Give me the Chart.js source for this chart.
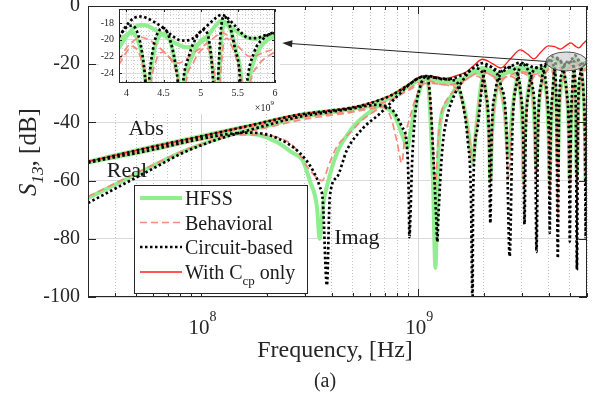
<!DOCTYPE html>
<html>
<head>
<meta charset="utf-8">
<title>S13 vs frequency</title>
<script src="https://cdn.jsdelivr.net/npm/chart.js@4.4.1/dist/chart.umd.min.js"></script>
<style>
  html, body { margin: 0; padding: 0; background: #fff; }
  #wrap { position: relative; width: 597px; height: 398px; overflow: hidden; }
  #mainChart { position: absolute; left: 0; top: 0; }
  #insetChart { position: absolute; left: 99px; top: 7px; background: #fff; }
</style>
</head>
<body>
<div id="wrap">
  <canvas id="mainChart" width="597" height="398"></canvas>
  <canvas id="insetChart" width="181" height="107"></canvas>
</div>
<script>
// S13 magnitude, real and imaginary parts, [GHz, dB]
const hfssAbs = [[0.03,-53.5],[0.058,-48.5],[0.1,-44.7],[0.167,-41.1],[0.285,-37.4],[0.4,-36],[0.48,-35.3],[0.58,-34],[0.665,-32.6],[0.75,-31.1],[0.82,-29.5],[0.9,-27.5],[0.985,-25.5],[1.05,-24.8],[1.12,-24.8],[1.2,-25.4],[1.3,-26],[1.42,-26],[1.55,-25.3],[1.67,-24.4],[1.8,-22.6],[1.98,-21.3],[2.2,-22.7],[2.4,-23.7],[2.65,-22.4],[2.96,-21],[3.2,-21.5],[3.41,-22],[3.65,-21.5],[3.9,-21],[4.24,-18.2],[4.49,-19.1],[4.7,-20.6],[4.86,-20.9],[5.11,-19.7],[5.28,-17.7],[5.45,-18.8],[5.65,-19.8],[5.9,-19.5],[6.0,-19.4]];
const hfssRe = [[0.03,-66],[0.0577,-55.5],[0.082,-50],[0.117,-45.8],[0.15,-43.4],[0.2,-41.2],[0.285,-38.2],[0.4,-36.5],[0.48,-35.6],[0.55,-34.8],[0.62,-34.3],[0.766,-36.8],[0.85,-45],[0.89,-48.8],[0.918,-43.6],[0.969,-34.7],[1.04,-26.5],[1.08,-25],[1.2,-25.5],[1.38,-26.3],[1.52,-28],[1.62,-34],[1.71,-44],[1.78,-54],[1.85,-42],[1.95,-27],[2.05,-22],[2.15,-22.4],[2.35,-26],[2.5,-36],[2.61,-52],[2.7,-38],[2.82,-27],[2.96,-21.5],[3.1,-21.6],[3.3,-26],[3.42,-37],[3.5,-55],[3.57,-38],[3.7,-27],[3.88,-21.6],[4.04,-20],[4.22,-23],[4.33,-35],[4.4,-55],[4.47,-36],[4.6,-25],[4.8,-20.6],[5.0,-19.6],[5.2,-22],[5.32,-35],[5.39,-58],[5.46,-36],[5.6,-25],[5.8,-20.2],[6.0,-19.8]];
const hfssIm = [[0.03,-53.8],[0.06,-49.3],[0.1,-45.6],[0.15,-43.8],[0.18,-44.2],[0.222,-46.7],[0.264,-50.5],[0.293,-53],[0.316,-60],[0.341,-69],[0.351,-80],[0.365,-68],[0.379,-62],[0.422,-50.5],[0.484,-43],[0.52,-40.2],[0.62,-35.5],[0.75,-31],[0.9,-27.3],[1.05,-25.2],[1.1,-25],[1.137,-38],[1.17,-61],[1.2,-90],[1.224,-67],[1.25,-43.6],[1.36,-33.3],[1.5,-27.8],[1.65,-24.6],[1.78,-22.8],[1.95,-23.5],[2.05,-30],[2.12,-45],[2.15,-60],[2.19,-44],[2.28,-30],[2.45,-24],[2.61,-22.7],[2.8,-23.5],[2.96,-30],[3.03,-44],[3.06,-60],[3.1,-44],[3.2,-30],[3.35,-24],[3.5,-22.2],[3.72,-23.5],[3.9,-30],[3.99,-44],[4.04,-60],[4.09,-44],[4.18,-30],[4.3,-21],[4.42,-19.2],[4.62,-21.5],[4.84,-30],[4.95,-44],[5.0,-60],[5.06,-44],[5.15,-30],[5.27,-19.6],[5.4,-19],[5.6,-21.5],[5.78,-30],[5.87,-44],[5.92,-60],[5.97,-44],[6.0,-37]];

const behavAbs = [[0.03,-53.3],[0.058,-48.6],[0.1,-45],[0.167,-41.6],[0.285,-38.3],[0.4,-37],[0.48,-36.3],[0.58,-35],[0.665,-33.6],[0.75,-32.2],[0.82,-30.6],[0.9,-28.6],[0.985,-26.7],[1.05,-26],[1.12,-25.8],[1.2,-26.4],[1.3,-27],[1.42,-27],[1.55,-26.3],[1.67,-25.3],[1.8,-23.6],[1.98,-22.5],[2.2,-24],[2.4,-25],[2.65,-23.8],[2.96,-22.5],[3.2,-23],[3.41,-23.5],[3.65,-23],[3.9,-22.4],[4.24,-19.7],[4.49,-21],[4.7,-22.8],[4.95,-21.2],[5.28,-19.1],[5.53,-21],[5.7,-22.2],[5.9,-21.5],[6.0,-21.1]];
const behavRe = [[0.03,-65.5],[0.0577,-55.2],[0.082,-49.8],[0.117,-45.9],[0.15,-43.8],[0.2,-41.8],[0.285,-39.2],[0.4,-37.5],[0.48,-36.7],[0.58,-35.5],[0.68,-34.8],[0.745,-38],[0.8,-47],[0.84,-54],[0.865,-46],[0.918,-38],[0.98,-31],[1.08,-26.6],[1.2,-26.7],[1.38,-27.3],[1.52,-29],[1.62,-35],[1.71,-44],[1.78,-53],[1.85,-42],[1.95,-28],[2.05,-23],[2.15,-23.6],[2.35,-27.5],[2.5,-37],[2.61,-59],[2.7,-39],[2.82,-28],[2.96,-23],[3.1,-23.3],[3.3,-27.5],[3.42,-38],[3.5,-60],[3.57,-39],[3.7,-28.5],[3.88,-23],[4.04,-21.5],[4.22,-25],[4.33,-37],[4.4,-73],[4.47,-37],[4.6,-27],[4.8,-22.3],[5.0,-21.4],[5.2,-23.5],[5.32,-37],[5.39,-68],[5.46,-37],[5.6,-27],[5.8,-22.3],[6.0,-22]];
const behavIm = [[0.03,-53.6],[0.06,-49.4],[0.1,-45.9],[0.15,-44.3],[0.2,-44.5],[0.255,-47],[0.275,-49.5],[0.306,-55],[0.341,-59],[0.36,-60],[0.39,-54],[0.42,-48.5],[0.484,-43.6],[0.556,-39],[0.665,-35],[0.8,-31.2],[0.92,-28.6],[1.05,-26.4],[1.1,-26.2],[1.14,-35],[1.17,-47],[1.2,-62],[1.23,-48],[1.27,-38],[1.36,-32],[1.5,-28.5],[1.65,-25.6],[1.78,-24],[1.95,-24.8],[2.05,-31],[2.12,-45],[2.15,-60],[2.19,-45],[2.28,-31],[2.45,-25.5],[2.61,-24.1],[2.8,-25],[2.96,-31],[3.03,-45],[3.06,-62],[3.1,-45],[3.2,-31],[3.35,-25.5],[3.5,-23.7],[3.72,-25],[3.9,-31],[3.99,-45],[4.04,-65],[4.09,-45],[4.18,-31],[4.3,-22.5],[4.42,-20.9],[4.62,-23.3],[4.84,-31],[4.95,-45],[5.0,-63],[5.06,-45],[5.15,-31],[5.27,-21.1],[5.4,-20.6],[5.6,-23.5],[5.78,-31],[5.87,-45],[5.92,-62],[5.97,-45],[6.0,-38]];

const circuitAbs = [[0.03,-53.6],[0.058,-48.6],[0.1,-44.8],[0.167,-41.1],[0.285,-37.3],[0.4,-35.9],[0.48,-35.1],[0.58,-33.7],[0.665,-32.3],[0.75,-30.7],[0.82,-29.1],[0.9,-27.1],[0.985,-25.1],[1.05,-24.2],[1.12,-24.1],[1.2,-24.6],[1.3,-25.2],[1.42,-25],[1.55,-24.1],[1.67,-23],[1.8,-21.2],[1.98,-19.6],[2.2,-21.2],[2.4,-22.6],[2.65,-20.9],[2.95,-19.5],[3.2,-20.3],[3.45,-21.2],[3.7,-20.4],[3.91,-19.7],[4.15,-17.4],[4.45,-18.2],[4.7,-20],[4.86,-20],[5.07,-18.6],[5.28,-17],[5.45,-18.2],[5.65,-19.8],[5.8,-19.7],[6.0,-19.2]];
const circuitRe = [[0.03,-67.7],[0.0577,-56.5],[0.082,-50.5],[0.117,-46],[0.14,-44.2],[0.2,-41],[0.285,-38],[0.4,-36.3],[0.48,-35.4],[0.58,-34.3],[0.62,-34],[0.74,-35],[0.842,-41.6],[0.89,-49.5],[0.905,-66.7],[0.91,-79.4],[0.92,-72.5],[0.935,-55.3],[0.966,-38],[1.02,-27.8],[1.08,-24.4],[1.22,-24.7],[1.4,-25.3],[1.52,-26.5],[1.6,-33],[1.69,-46],[1.75,-65.6],[1.78,-104],[1.79,-65.6],[1.87,-42.6],[1.98,-26],[2.08,-20.5],[2.2,-21.4],[2.4,-27],[2.55,-42],[2.64,-86],[2.72,-42],[2.85,-26],[3.0,-19.9],[3.15,-21],[3.35,-27],[3.46,-42],[3.51,-84.5],[3.57,-42],[3.7,-26],[3.85,-20.6],[4.04,-18.6],[4.25,-22],[4.34,-35],[4.4,-86.6],[4.46,-35],[4.6,-23],[4.8,-19.6],[5.0,-18.9],[5.2,-21],[5.33,-35],[5.39,-90.7],[5.46,-35],[5.6,-23],[5.8,-19.9],[6.0,-19.6]];
const circuitIm = [[0.03,-53.8],[0.06,-49.3],[0.1,-45.6],[0.14,-43.8],[0.167,-43.5],[0.222,-45.3],[0.284,-50.5],[0.326,-56.4],[0.351,-62],[0.363,-67],[0.379,-96],[0.391,-65.6],[0.422,-58.8],[0.469,-49.5],[0.556,-42],[0.665,-37],[0.8,-31],[0.9,-27.3],[1.0,-24.8],[1.1,-24.3],[1.137,-32.3],[1.17,-49.5],[1.21,-72.5],[1.224,-81],[1.238,-72.5],[1.29,-49.5],[1.36,-38],[1.48,-30],[1.56,-27],[1.68,-23.5],[1.8,-21.3],[1.95,-22.2],[2.05,-30],[2.12,-45],[2.15,-74.6],[2.18,-45],[2.26,-30],[2.4,-23.2],[2.6,-21],[2.8,-22],[2.97,-30],[3.05,-45],[3.09,-75],[3.13,-45],[3.22,-30],[3.36,-23],[3.52,-21.3],[3.75,-22],[3.92,-30],[4.0,-45],[4.04,-78],[4.08,-45],[4.16,-30],[4.28,-20.5],[4.42,-18.4],[4.6,-20.2],[4.84,-30],[4.95,-45],[5.0,-81],[5.05,-45],[5.14,-28],[5.26,-18.6],[5.4,-18.6],[5.6,-21],[5.78,-30],[5.87,-45],[5.92,-80],[5.97,-45],[6.0,-36]];

const ccpAbs = [[0.03,-53.5],[0.058,-48.5],[0.1,-44.7],[0.167,-41],[0.285,-37.2],[0.4,-35.8],[0.48,-35],[0.58,-33.6],[0.665,-32.2],[0.75,-30.6],[0.82,-29],[0.9,-27],[0.985,-25],[1.05,-24],[1.12,-23.9],[1.2,-24.3],[1.3,-24.9],[1.42,-24.5],[1.55,-23.6],[1.67,-22.6],[1.8,-20.5],[1.98,-18.3],[2.2,-19.8],[2.4,-21.3],[2.65,-18.3],[2.96,-15.1],[3.2,-16.6],[3.41,-18.2],[3.7,-15.6],[3.99,-13.7],[4.25,-14],[4.54,-14.8],[4.8,-13.6],[5.05,-12.7],[5.3,-13.8],[5.5,-14.4],[5.75,-13],[6.0,-11.7]];

// zoomed window 3.9 - 6 GHz
const insetHfssAbs = [[3.9,-21],[4.0,-19.6],[4.1,-18.6],[4.2,-18.2],[4.3,-18.4],[4.4,-18.9],[4.5,-19.4],[4.6,-20.1],[4.7,-20.6],[4.8,-20.9],[4.9,-20.8],[5.0,-20.3],[5.1,-19.5],[5.2,-18.3],[5.28,-17.7],[5.35,-18],[5.45,-18.8],[5.55,-19.4],[5.65,-19.8],[5.75,-19.9],[5.85,-19.7],[6.0,-19.4]];
const insetHfssRe = [[3.9,-20.4],[4.0,-19.4],[4.08,-19.2],[4.15,-20],[4.21,-22],[4.26,-25.5],[4.3,-32],[4.72,-32],[4.77,-25.5],[4.86,-22.5],[4.97,-20.5],[5.06,-19.8],[5.13,-21.5],[5.18,-25.5],[5.21,-32],[5.58,-32],[5.64,-25.5],[5.74,-22],[5.86,-20.3],[6.0,-19.6]];
const insetHfssIm = [[4.27,-32],[4.31,-25.5],[4.37,-21.5],[4.45,-19.5],[4.52,-19.3],[4.6,-20.5],[4.67,-23.5],[4.71,-26],[4.73,-32],[5.21,-32],[5.24,-25.5],[5.28,-19.8],[5.32,-18],[5.4,-18.8],[5.48,-21.5],[5.55,-25.2],[5.58,-32]];
const insetBehavAbs = [[3.9,-22.5],[4.0,-21],[4.1,-20.1],[4.2,-19.7],[4.3,-20],[4.4,-20.6],[4.5,-21.4],[4.6,-22.3],[4.7,-22.8],[4.8,-22.4],[4.9,-21.6],[5.0,-21],[5.1,-20.3],[5.2,-19.6],[5.28,-19.1],[5.35,-19.4],[5.45,-20.3],[5.55,-21.2],[5.65,-22],[5.75,-21.9],[5.85,-21.5],[6.0,-21.1]];
const insetBehavRe = [[3.9,-23],[4.0,-21.5],[4.08,-20.8],[4.15,-21.3],[4.22,-23],[4.27,-25.5],[4.31,-32],[4.75,-32],[4.8,-25.5],[4.9,-22.8],[5.0,-21.3],[5.08,-21],[5.15,-22.5],[5.2,-25.5],[5.23,-32],[5.58,-32],[5.66,-25.5],[5.78,-23],[5.9,-22],[6.0,-21.5]];
const insetBehavIm = [[4.28,-32],[4.33,-25.5],[4.4,-22.5],[4.48,-21.5],[4.55,-21.8],[4.63,-23],[4.7,-25.5],[4.74,-32],[5.22,-32],[5.26,-25.5],[5.3,-21],[5.35,-19.8],[5.42,-20.8],[5.5,-23],[5.56,-25.5],[5.6,-32]];
const insetCircuitAbs = [[3.9,-19.7],[4.0,-18.3],[4.1,-17.4],[4.2,-17.2],[4.3,-17.5],[4.4,-18],[4.5,-18.6],[4.6,-19.4],[4.7,-20],[4.8,-20.1],[4.9,-19.8],[5.0,-19],[5.1,-18.2],[5.2,-17.4],[5.28,-17],[5.35,-17.3],[5.45,-18.2],[5.55,-19.2],[5.65,-19.8],[5.75,-19.8],[5.85,-19.5],[6.0,-19.2]];
const insetCircuitRe = [[3.9,-19.6],[4.0,-18.5],[4.08,-18.3],[4.15,-19.2],[4.21,-21.5],[4.26,-25.5],[4.3,-32],[4.72,-32],[4.76,-25.5],[4.84,-22],[4.95,-19.6],[5.04,-18.8],[5.12,-20.5],[5.17,-25.5],[5.2,-32],[5.57,-32],[5.62,-25.5],[5.72,-21.5],[5.85,-19.8],[6.0,-19.0]];
const insetCircuitIm = [[4.26,-32],[4.3,-25.5],[4.36,-21],[4.44,-18.9],[4.5,-18.6],[4.58,-19.8],[4.66,-23],[4.7,-26],[4.73,-32],[5.2,-32],[5.23,-25.5],[5.27,-19],[5.31,-17.2],[5.38,-18],[5.46,-21],[5.53,-25],[5.56,-32]];

// axis ticks
const freqGrid = [3e7,4e7,5e7,6e7,7e7,8e7,9e7,1e8,2e8,3e8,4e8,5e8,6e8,7e8,8e8,9e8,1e9,2e9,3e9,4e9,5e9,6e9];
const decades = [1e8, 1e9];
const dbTicks = [-100, -80, -60, -40, -20, 0];
const insetFreqGrid = [3.9,4.0,4.1,4.2,4.3,4.4,4.5,4.6,4.7,4.8,4.9,5.0,5.1,5.2,5.3,5.4,5.5,5.6,5.7,5.8,5.9,6.0];
const insetFreqLabels = [4, 4.5, 5, 5.5, 6];
const insetDbGrid = [-25,-24.5,-24,-23.5,-23,-22.5,-22,-21.5,-21,-20.5,-20,-19.5,-19,-18.5,-18,-17.5,-17,-16.5];
const insetDbLabels = [-24, -22, -20, -18];

const SERIF = '"Liberation Serif", "Times New Roman", serif';
const INK = '#262626';
Chart.defaults.font.family = SERIF;

const styles = {
  hfss:    { borderColor: 'rgb(144,238,144)', borderWidth: 4,   borderDash: [],         order: 3 },
  behav:   { borderColor: 'rgb(246,138,124)', borderWidth: 1.7, borderDash: [7, 4],     order: 2 },
  circuit: { borderColor: '#000',             borderWidth: 2.7, borderDash: [2.5, 2.5], order: 0 },
  ccp:     { borderColor: 'rgb(255,30,30)',   borderWidth: 1.3, borderDash: [],         order: 1 }
};

function series(points, style, scale) {
  return {
    data: points.map(([f, db]) => ({ x: f * scale, y: db })),
    borderColor: style.borderColor,
    borderWidth: style.borderWidth,
    borderDash: style.borderDash,
    order: style.order,
    borderCapStyle: 'butt',
    pointRadius: 0,
    fill: false,
    cubicInterpolationMode: 'monotone'
  };
}

const near = (list, v) => list.some(t => Math.abs(t - v) < 1e-6);

// fixed axis box, no extra room for overhanging labels
function fixBox(size) {
  return s => {
    if (s.isHorizontal()) s.height = size; else s.width = size;
    s.paddingTop = 0; s.paddingBottom = 0; s.paddingLeft = 0; s.paddingRight = 0;
  };
}

// text with sub/superscripts, y is the baseline
function drawRich(ctx, parts, x, y, size, align) {
  const fontOf = p => (p.italic ? 'italic ' : '') + ((p.sub || p.sup) ? Math.round(size * 0.66) : size) + 'px ' + SERIF;
  let w = 0;
  parts.forEach(p => { ctx.font = fontOf(p); w += ctx.measureText(p.t).width; });
  let cx = align === 'center' ? x - w / 2 : align === 'right' ? x - w : x;
  ctx.textAlign = 'left';
  ctx.textBaseline = 'alphabetic';
  parts.forEach(p => {
    ctx.font = fontOf(p);
    const dy = p.sub ? size * 0.28 : p.sup ? -size * 0.6 : 0;
    ctx.fillText(p.t, cx, y + dy);
    cx += ctx.measureText(p.t).width;
  });
}

const legendRows = [
  { style: styles.hfss,    parts: [{ t: 'HFSS' }],                                      y: 198 },
  { style: styles.behav,   parts: [{ t: 'Behavioral' }],                                y: 222.5 },
  { style: styles.circuit, parts: [{ t: 'Circuit-based' }],                             y: 247 },
  { style: styles.ccp,     parts: [{ t: 'With C' }, { t: 'cp', sub: true }, { t: ' only' }], y: 272 }
];

const mainDecor = {
  id: 'mainDecor',
  afterDraw(chart) {
    const { ctx, chartArea: a, scales: { x, y } } = chart;
    ctx.save();
    ctx.strokeStyle = INK;
    ctx.fillStyle = INK;
    ctx.lineWidth = 1;

    // inward tick marks on all four sides
    ctx.beginPath();
    freqGrid.forEach(v => {
      const px = Math.round(x.getPixelForValue(v)) + 0.5;
      const len = near(decades, v) ? 8 : 4;
      ctx.moveTo(px, a.bottom); ctx.lineTo(px, a.bottom - len);
      ctx.moveTo(px, a.top); ctx.lineTo(px, a.top + len);
    });
    dbTicks.forEach(v => {
      const py = Math.round(y.getPixelForValue(v)) + 0.5;
      ctx.moveTo(a.left, py); ctx.lineTo(a.left + 8, py);
      ctx.moveTo(a.right, py); ctx.lineTo(a.right - 8, py);
    });
    ctx.stroke();
    ctx.strokeRect(a.left + 0.5, a.top + 0.5, a.width - 1, a.height - 1);

    // decade labels
    decades.forEach(v => {
      drawRich(ctx, [{ t: '10' }, { t: String(Math.round(Math.log10(v))), sup: true }],
        x.getPixelForValue(v) + 1, 334, 21, 'center');
    });

    // axis titles
    drawRich(ctx, [{ t: 'Frequency, [Hz]' }], 335, 357, 24, 'center');
    drawRich(ctx, [{ t: '(a)' }], 325, 387, 20, 'center');
    ctx.save();
    ctx.translate(36, 152);
    ctx.rotate(-Math.PI / 2);
    drawRich(ctx, [{ t: 'S', italic: true }, { t: '13', sub: true, italic: true }, { t: ', [dB]' }], 0, 0, 25, 'center');
    ctx.restore();

    // curve labels
    ctx.fillStyle = '#1a1a1a';
    drawRich(ctx, [{ t: 'Abs' }], x.getPixelForValue(5.56e7), y.getPixelForValue(-44.3), 22, 'center');
    drawRich(ctx, [{ t: 'Real' }], x.getPixelForValue(4.54e7), y.getPixelForValue(-58.8), 22, 'center');
    drawRich(ctx, [{ t: 'Imag' }], x.getPixelForValue(5.21e8), y.getPixelForValue(-81.8), 22, 'center');

    // highlighted region and pointer to the zoomed view
    const ex1 = x.getPixelForValue(3.88e9), ex2 = x.getPixelForValue(5.98e9);
    const ey1 = y.getPixelForValue(-15.8), ey2 = y.getPixelForValue(-22.3);
    const ecx = (ex1 + ex2) / 2, ecy = (ey1 + ey2) / 2;
    ctx.beginPath();
    ctx.ellipse(ecx, ecy, (ex2 - ex1) / 2, (ey2 - ey1) / 2, 0, 0, Math.PI * 2);
    ctx.fillStyle = 'rgba(200,200,200,0.6)';
    ctx.fill();
    ctx.strokeStyle = '#555';
    ctx.stroke();

    const tipX = x.getPixelForValue(2.36e8), tipY = y.getPixelForValue(-12.7);
    const ang = Math.atan2(tipY - ecy, tipX - ex1);
    ctx.strokeStyle = INK;
    ctx.fillStyle = INK;
    ctx.beginPath();
    ctx.moveTo(ex1, ecy);
    ctx.lineTo(tipX - 6 * Math.cos(ang), tipY - 6 * Math.sin(ang));
    ctx.stroke();
    ctx.beginPath();
    ctx.moveTo(tipX, tipY);
    ctx.lineTo(tipX - 10 * Math.cos(ang) + 3.5 * Math.sin(ang), tipY - 10 * Math.sin(ang) - 3.5 * Math.cos(ang));
    ctx.lineTo(tipX - 10 * Math.cos(ang) - 3.5 * Math.sin(ang), tipY - 10 * Math.sin(ang) + 3.5 * Math.cos(ang));
    ctx.closePath();
    ctx.fill();

    // legend
    const bx = 134.5, by = 185.5, bw = 173, bh = 108;
    ctx.fillStyle = '#fff';
    ctx.fillRect(bx, by, bw, bh);
    ctx.strokeStyle = INK;
    ctx.lineWidth = 1;
    ctx.setLineDash([]);
    ctx.strokeRect(bx, by, bw, bh);
    legendRows.forEach(row => {
      ctx.save();
      ctx.strokeStyle = row.style.borderColor;
      ctx.lineWidth = row.style.borderWidth;
      ctx.setLineDash(row.style.borderDash);
      ctx.lineCap = 'butt';
      ctx.beginPath();
      ctx.moveTo(140, row.y);
      ctx.lineTo(182, row.y);
      ctx.stroke();
      ctx.restore();
      ctx.fillStyle = '#1a1a1a';
      drawRich(ctx, row.parts, 185, row.y + 7, 20, 'left');
    });
    ctx.restore();
  }
};

new Chart(document.getElementById('mainChart'), {
  type: 'line',
  data: {
    datasets: [
      series(hfssAbs, styles.hfss, 1e9), series(hfssRe, styles.hfss, 1e9), series(hfssIm, styles.hfss, 1e9),
      series(behavAbs, styles.behav, 1e9), series(behavRe, styles.behav, 1e9), series(behavIm, styles.behav, 1e9),
      series(circuitAbs, styles.circuit, 1e9), series(circuitRe, styles.circuit, 1e9), series(circuitIm, styles.circuit, 1e9),
      series(ccpAbs, styles.ccp, 1e9)
    ]
  },
  options: {
    responsive: false,
    animation: false,
    devicePixelRatio: 1,
    layout: { padding: { top: 6, right: 10, left: 0, bottom: 0 } },
    plugins: { legend: { display: false }, tooltip: { enabled: false } },
    scales: {
      x: {
        type: 'logarithmic',
        min: 3e7,
        max: 6e9,
        afterBuildTicks: s => { s.ticks = freqGrid.map(v => ({ value: v, major: near(decades, v) })); },
        afterFit: fixBox(101),
        ticks: { display: false },
        grid: { drawTicks: false, color: c => (c.tick && c.tick.major) ? '#d6d6d6' : '#c4c4c4' },
        border: { display: false, dash: c => (c.tick && c.tick.major) ? [] : [1, 2] }
      },
      y: {
        min: -100,
        max: 0,
        afterBuildTicks: s => { s.ticks = dbTicks.map(v => ({ value: v })); },
        afterFit: fixBox(88),
        ticks: { padding: 8, color: INK, font: { family: SERIF, size: 20 } },
        grid: { drawTicks: false, color: '#dadada' },
        border: { display: false }
      }
    }
  },
  plugins: [mainDecor]
});

const insetDecor = {
  id: 'insetDecor',
  afterDraw(chart) {
    const { ctx, chartArea: a, scales: { x, y } } = chart;
    ctx.save();
    ctx.strokeStyle = INK;
    ctx.fillStyle = INK;
    ctx.lineWidth = 1;
    ctx.beginPath();
    insetFreqLabels.forEach(v => {
      const px = Math.round(x.getPixelForValue(v)) + 0.5;
      ctx.moveTo(px, a.bottom); ctx.lineTo(px, a.bottom - 3);
      ctx.moveTo(px, a.top); ctx.lineTo(px, a.top + 3);
    });
    insetDbLabels.forEach(v => {
      const py = Math.round(y.getPixelForValue(v)) + 0.5;
      ctx.moveTo(a.left, py); ctx.lineTo(a.left + 3, py);
      ctx.moveTo(a.right, py); ctx.lineTo(a.right - 3, py);
    });
    ctx.stroke();
    ctx.strokeRect(a.left + 0.5, a.top + 0.5, a.width - 1, a.height - 1);
    drawRich(ctx, [{ t: '\u00d710' }, { t: '9', sup: true }], a.right - 1, a.bottom + 28, 10, 'right');
    ctx.restore();
  }
};

new Chart(document.getElementById('insetChart'), {
  type: 'line',
  data: {
    datasets: [
      series(insetHfssAbs, styles.hfss, 1), series(insetHfssRe, styles.hfss, 1), series(insetHfssIm, styles.hfss, 1),
      series(insetBehavAbs, styles.behav, 1), series(insetBehavRe, styles.behav, 1), series(insetBehavIm, styles.behav, 1),
      series(insetCircuitAbs, styles.circuit, 1), series(insetCircuitRe, styles.circuit, 1), series(insetCircuitIm, styles.circuit, 1)
    ]
  },
  options: {
    responsive: false,
    animation: false,
    devicePixelRatio: 1,
    layout: { padding: { top: 2, right: 5, left: 0, bottom: 0 } },
    plugins: { legend: { display: false }, tooltip: { enabled: false } },
    scales: {
      x: {
        type: 'linear',
        min: 3.9,
        max: 6,
        afterBuildTicks: s => { s.ticks = insetFreqGrid.map(v => ({ value: v, major: near(insetFreqLabels, v) })); },
        afterFit: fixBox(31),
        ticks: {
          autoSkip: false, maxRotation: 0, padding: 4, color: INK, font: { family: SERIF, size: 10 },
          callback: v => near(insetFreqLabels, v) ? String(Math.round(v * 10) / 10) : ''
        },
        grid: { drawTicks: false, color: c => (c.tick && c.tick.major) ? '#dcdcdc' : '#cdcdcd' },
        border: { display: false, dash: c => (c.tick && c.tick.major) ? [] : [1, 2] }
      },
      y: {
        min: -25.2,
        max: -16.3,
        afterBuildTicks: s => { s.ticks = insetDbGrid.map(v => ({ value: v, major: near(insetDbLabels, v) })); },
        afterFit: fixBox(20),
        ticks: {
          autoSkip: false, padding: 5, color: INK, font: { family: SERIF, size: 10 },
          callback: v => near(insetDbLabels, v) ? String(Math.round(v)) : ''
        },
        grid: { drawTicks: false, color: c => (c.tick && c.tick.major) ? '#dcdcdc' : '#cdcdcd' },
        border: { display: false, dash: c => (c.tick && c.tick.major) ? [] : [1, 2] }
      }
    }
  },
  plugins: [insetDecor]
});
</script>
</body>
</html>
